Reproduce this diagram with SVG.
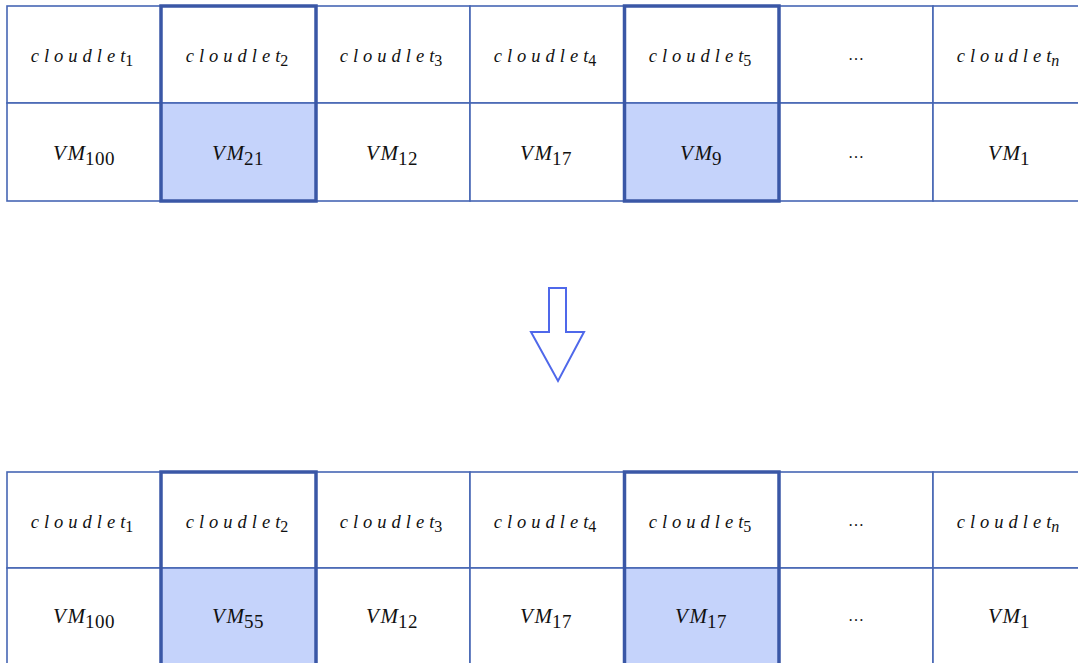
<svg xmlns="http://www.w3.org/2000/svg" width="1078" height="663" viewBox="0 0 1078 663">
<style>
.cell{fill:#ffffff;stroke:#4666b4;stroke-width:1.6}
.hl{fill:#c5d3fb;stroke:#4666b4;stroke-width:1.6}
.box{fill:none;stroke:#3a57a6;stroke-width:3.5}
.t{font-family:"Liberation Serif","Times New Roman",serif;font-style:italic;fill:#111;text-anchor:middle}
.c{font-size:18.5px}
.ls{letter-spacing:5px}
.v{font-size:21px}
.lv{letter-spacing:1.5px}
.s{font-style:normal;font-size:16px}
.si{font-size:16px}
.sv{font-style:normal;font-size:19px;letter-spacing:0.5px}
.d{font-family:"Liberation Serif",serif;font-size:16px;fill:#111;text-anchor:middle}
.arrow{fill:#ffffff;stroke:#4f68ea;stroke-width:2}
</style>

<g id="table-before">
  <g id="b-c1"><rect class="cell" x="7" y="6" width="154" height="97"/><text class="t c" x="82" y="62"><tspan class="ls">cloudle</tspan>t<tspan class="s" dy="4">1</tspan></text></g>
  <g id="b-c2"><rect class="cell" x="161" y="6" width="155" height="97"/><text class="t c" x="237" y="62"><tspan class="ls">cloudle</tspan>t<tspan class="s" dy="4">2</tspan></text></g>
  <g id="b-c3"><rect class="cell" x="316" y="6" width="154" height="97"/><text class="t c" x="391" y="62"><tspan class="ls">cloudle</tspan>t<tspan class="s" dy="4">3</tspan></text></g>
  <g id="b-c4"><rect class="cell" x="470" y="6" width="154.5" height="97"/><text class="t c" x="545" y="62"><tspan class="ls">cloudle</tspan>t<tspan class="s" dy="4">4</tspan></text></g>
  <g id="b-c5"><rect class="cell" x="624.5" y="6" width="154.5" height="97"/><text class="t c" x="700" y="62"><tspan class="ls">cloudle</tspan>t<tspan class="s" dy="4">5</tspan></text></g>
  <g id="b-c6"><rect class="cell" x="779" y="6" width="154" height="97"/><text class="d" x="856" y="60">…</text></g>
  <g id="b-cn"><rect class="cell" x="933" y="6" width="160" height="97"/><text class="t c" x="1008" y="62"><tspan class="ls">cloudle</tspan>t<tspan class="si" dy="4">n</tspan></text></g>

  <g id="b-v1"><rect class="cell" x="7" y="103" width="154" height="98"/><text class="t v" x="84" y="160"><tspan class="lv">V</tspan>M<tspan class="sv" dy="5">100</tspan></text></g>
  <g id="b-v2"><rect class="hl" x="161" y="103" width="155" height="98"/><text class="t v" x="238" y="160"><tspan class="lv">V</tspan>M<tspan class="sv" dy="5">21</tspan></text></g>
  <g id="b-v3"><rect class="cell" x="316" y="103" width="154" height="98"/><text class="t v" x="392" y="160"><tspan class="lv">V</tspan>M<tspan class="sv" dy="5">12</tspan></text></g>
  <g id="b-v4"><rect class="cell" x="470" y="103" width="154.5" height="98"/><text class="t v" x="546" y="160"><tspan class="lv">V</tspan>M<tspan class="sv" dy="5">17</tspan></text></g>
  <g id="b-v5"><rect class="hl" x="624.5" y="103" width="154.5" height="98"/><text class="t v" x="701" y="160"><tspan class="lv">V</tspan>M<tspan class="sv" dy="5">9</tspan></text></g>
  <g id="b-v6"><rect class="cell" x="779" y="103" width="154" height="98"/><text class="d" x="856" y="158">…</text></g>
  <g id="b-vn"><rect class="cell" x="933" y="103" width="160" height="98"/><text class="t v" x="1009" y="160"><tspan class="lv">V</tspan>M<tspan class="sv" dy="5">1</tspan></text></g>

  <rect class="box" x="161" y="6" width="155" height="195"/>
  <rect class="box" x="624.5" y="6" width="154.5" height="195"/>
</g>

<g id="connectors">
  <path class="arrow" d="M549,288 L566,288 L566,332 L584,332 L558,381 L531,332 L549,332 Z"/>
</g>

<g id="table-after">
  <g id="a-c1"><rect class="cell" x="7" y="472" width="154" height="96"/><text class="t c" x="82" y="528"><tspan class="ls">cloudle</tspan>t<tspan class="s" dy="4">1</tspan></text></g>
  <g id="a-c2"><rect class="cell" x="161" y="472" width="155" height="96"/><text class="t c" x="237" y="528"><tspan class="ls">cloudle</tspan>t<tspan class="s" dy="4">2</tspan></text></g>
  <g id="a-c3"><rect class="cell" x="316" y="472" width="154" height="96"/><text class="t c" x="391" y="528"><tspan class="ls">cloudle</tspan>t<tspan class="s" dy="4">3</tspan></text></g>
  <g id="a-c4"><rect class="cell" x="470" y="472" width="154.5" height="96"/><text class="t c" x="545" y="528"><tspan class="ls">cloudle</tspan>t<tspan class="s" dy="4">4</tspan></text></g>
  <g id="a-c5"><rect class="cell" x="624.5" y="472" width="154.5" height="96"/><text class="t c" x="700" y="528"><tspan class="ls">cloudle</tspan>t<tspan class="s" dy="4">5</tspan></text></g>
  <g id="a-c6"><rect class="cell" x="779" y="472" width="154" height="96"/><text class="d" x="856" y="526">…</text></g>
  <g id="a-cn"><rect class="cell" x="933" y="472" width="160" height="96"/><text class="t c" x="1008" y="528"><tspan class="ls">cloudle</tspan>t<tspan class="si" dy="4">n</tspan></text></g>

  <g id="a-v1"><rect class="cell" x="7" y="568" width="154" height="110"/><text class="t v" x="84" y="623"><tspan class="lv">V</tspan>M<tspan class="sv" dy="5">100</tspan></text></g>
  <g id="a-v2"><rect class="hl" x="161" y="568" width="155" height="110"/><text class="t v" x="238" y="623"><tspan class="lv">V</tspan>M<tspan class="sv" dy="5">55</tspan></text></g>
  <g id="a-v3"><rect class="cell" x="316" y="568" width="154" height="110"/><text class="t v" x="392" y="623"><tspan class="lv">V</tspan>M<tspan class="sv" dy="5">12</tspan></text></g>
  <g id="a-v4"><rect class="cell" x="470" y="568" width="154.5" height="110"/><text class="t v" x="546" y="623"><tspan class="lv">V</tspan>M<tspan class="sv" dy="5">17</tspan></text></g>
  <g id="a-v5"><rect class="hl" x="624.5" y="568" width="154.5" height="110"/><text class="t v" x="701" y="623"><tspan class="lv">V</tspan>M<tspan class="sv" dy="5">17</tspan></text></g>
  <g id="a-v6"><rect class="cell" x="779" y="568" width="154" height="110"/><text class="d" x="856" y="621">…</text></g>
  <g id="a-vn"><rect class="cell" x="933" y="568" width="160" height="110"/><text class="t v" x="1009" y="623"><tspan class="lv">V</tspan>M<tspan class="sv" dy="5">1</tspan></text></g>

  <rect class="box" x="161" y="472" width="155" height="206"/>
  <rect class="box" x="624.5" y="472" width="154.5" height="206"/>
</g>
</svg>
